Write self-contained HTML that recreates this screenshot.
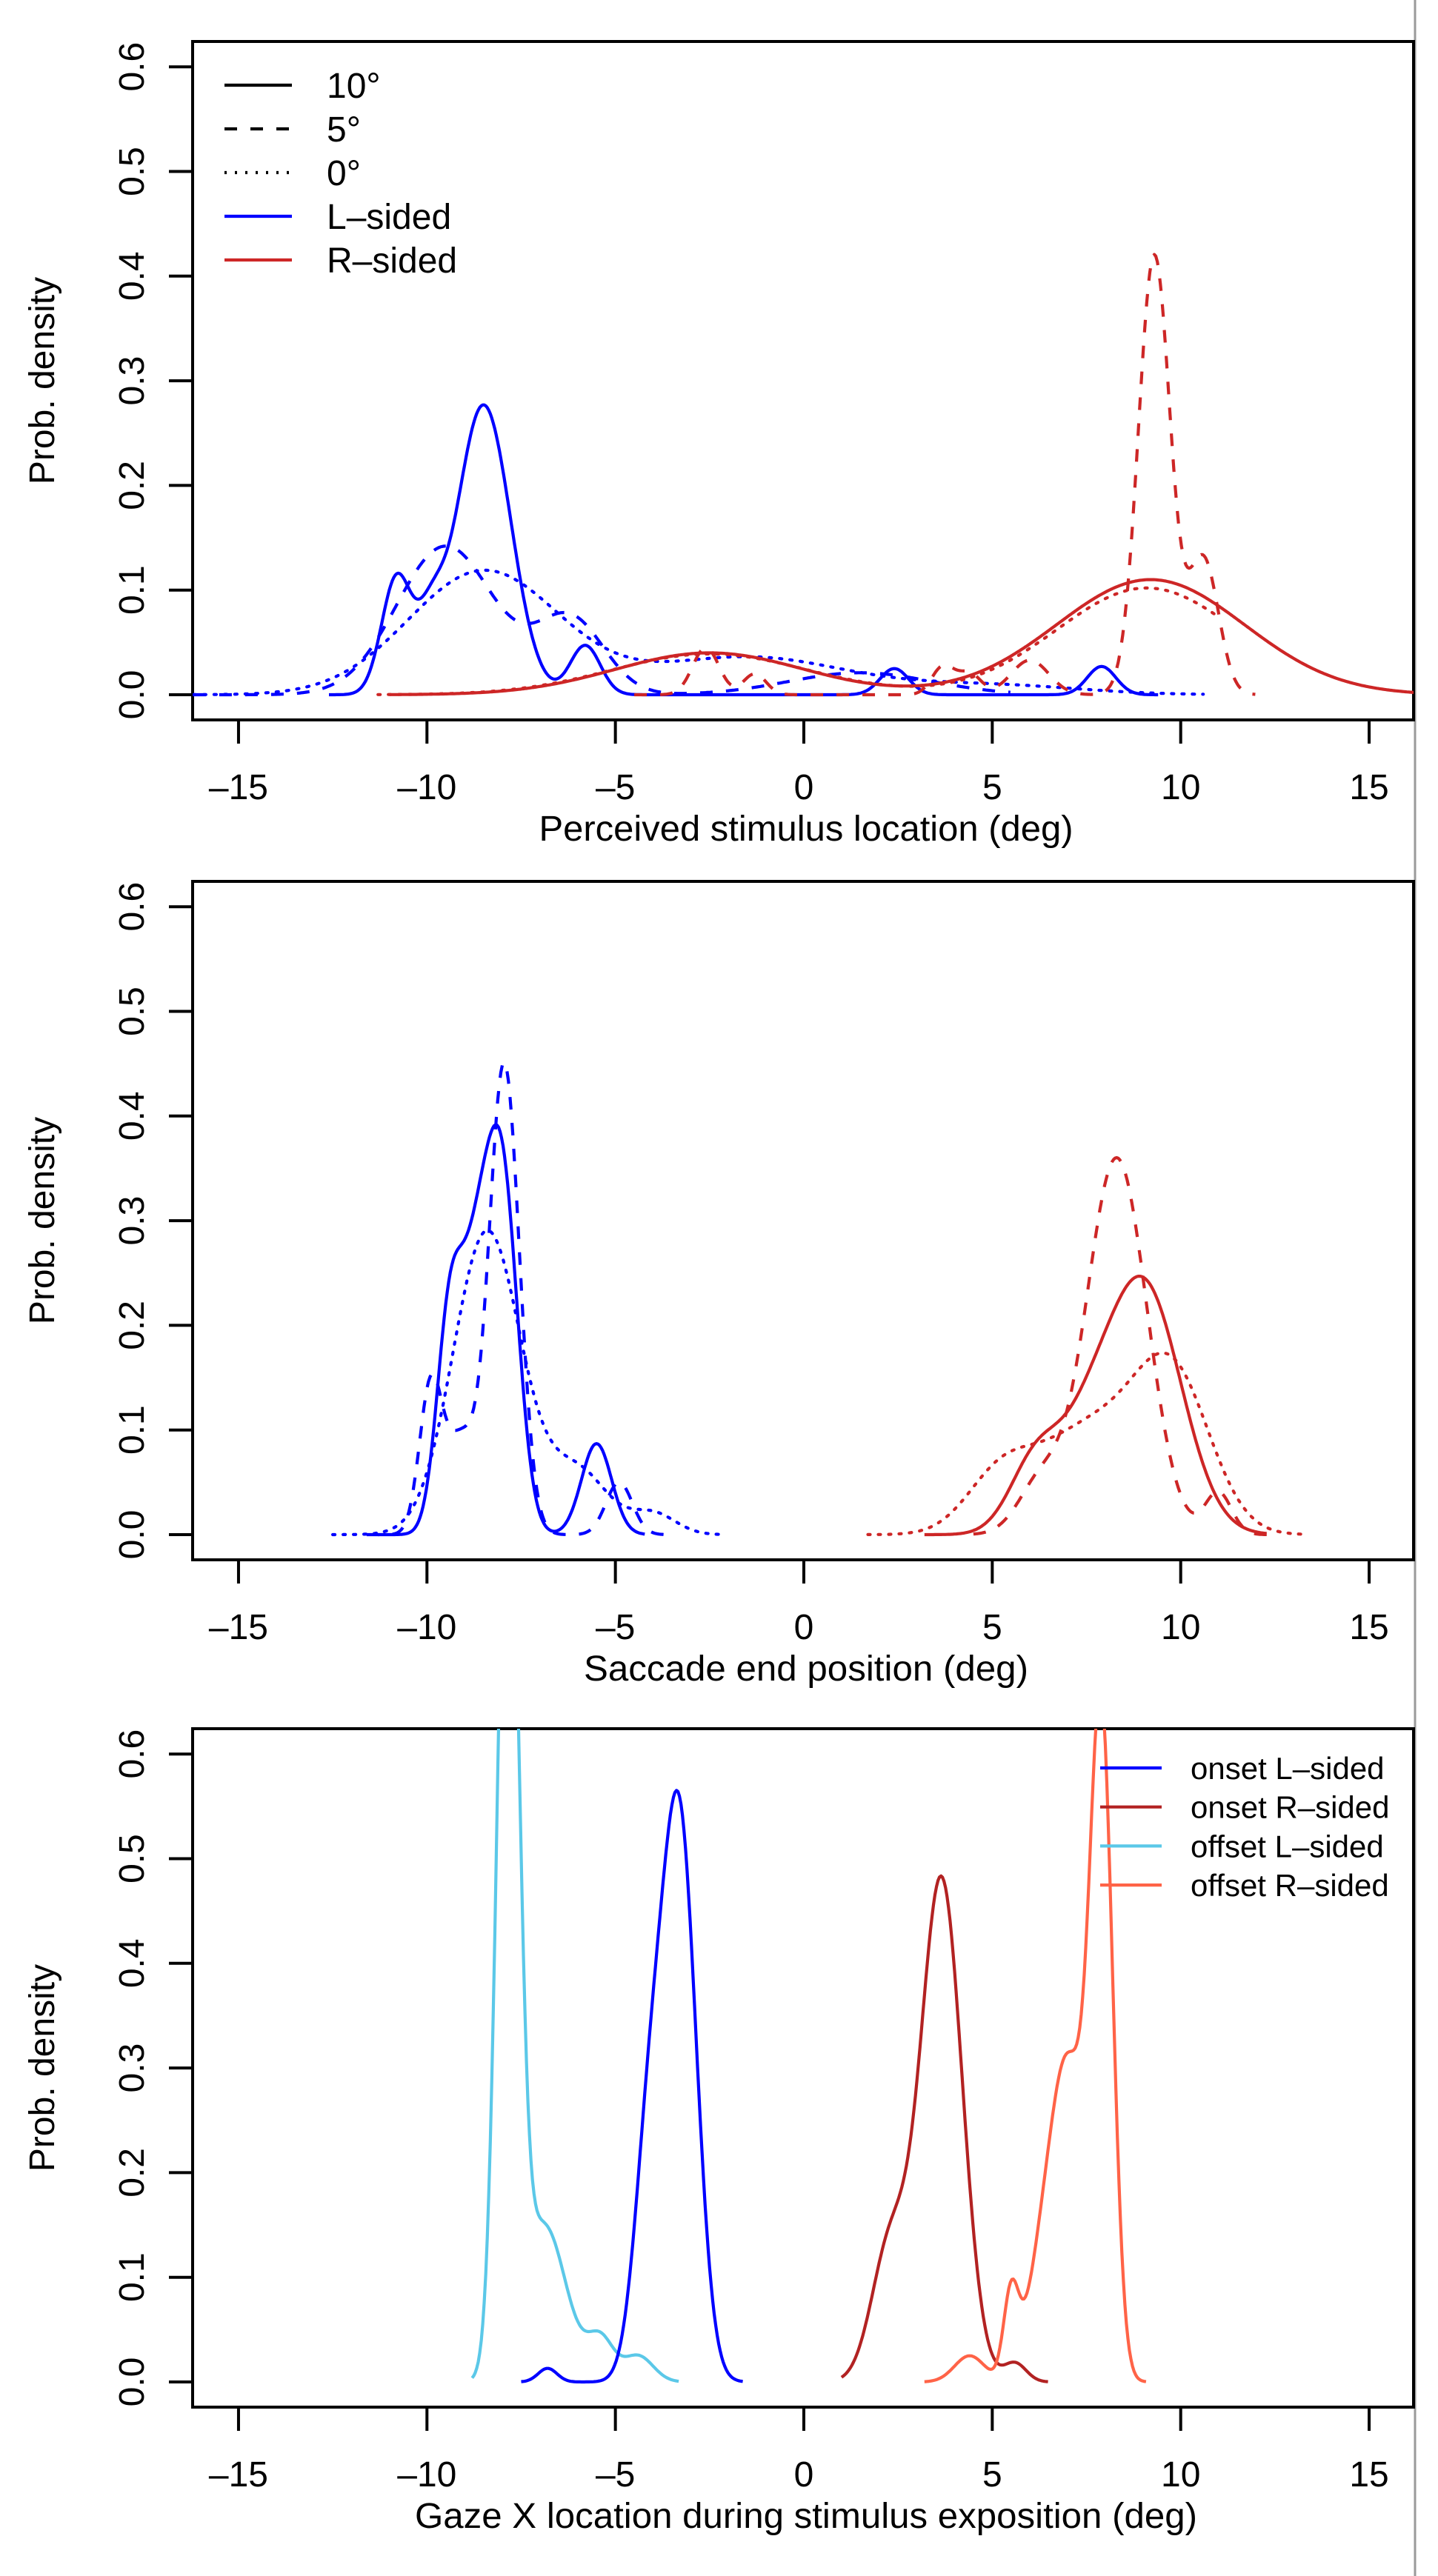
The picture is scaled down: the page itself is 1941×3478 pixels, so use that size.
<!DOCTYPE html>
<html><head><meta charset="utf-8"><style>
html,body{margin:0;padding:0;background:#fff;}
svg{display:block;}
text{font-family:"Liberation Sans",sans-serif;fill:#000;}
</style></head><body>
<svg id="s" width="1941" height="3478" viewBox="0 0 1941 3478" xmlns="http://www.w3.org/2000/svg">
<defs>
<clipPath id="c0"><rect x="260" y="56" width="1648" height="916"/></clipPath>
<clipPath id="c1"><rect x="260" y="1190" width="1648" height="916"/></clipPath>
<clipPath id="c2"><rect x="260" y="2334" width="1648" height="916"/></clipPath>
</defs>
<line x1="1910" y1="0" x2="1910" y2="3478" stroke="#9a9a9a" stroke-width="3"/>
<g id="g"></g>
</svg>
<script>
(function(){
var NS="http://www.w3.org/2000/svg";
var G=document.getElementById("g");
function el(t,a,txt){var e=document.createElementNS(NS,t);for(var k in a)e.setAttribute(k,a[k]);if(txt!=null)e.textContent=txt;G.appendChild(e);return e;}
var X0=1085,XU=50.87,YU=1413;
function X(v){return X0+v*XU;}
function gs(x,c){var s=0;for(var i=0;i<c.length;i++){var m=c[i];var d=(x-m[0])/m[1];s+=m[2]*Math.exp(-0.5*d*d);}return s;}
var BLUE="#0000FF",RED="#CD2626";
var DASH="17,18",DOT="3,11";
function curve(off,clip,a,b,comps,col,dash){
  var zero=938+off,p="";
  for(var x=a;x<=b+1e-9;x+=0.04){var y=zero-gs(x,comps)*YU;p+=(p?"L":"M")+X(x).toFixed(1)+","+y.toFixed(1);}
  var at={d:p,fill:"none",stroke:col,"stroke-width":"4.2","stroke-linejoin":"round","clip-path":"url(#"+clip+")"};
  if(dash)at["stroke-dasharray"]=dash;
  if(dash==DOT)at["stroke-linecap"]="round";
  el("path",at);
}
var titles=["Perceived stimulus location (deg)","Saccade end position (deg)","Gaze X location during stimulus exposition (deg)"];
var tlen=[721,600,1056];
var offs=[0,1134,2278];
for(var k=0;k<3;k++){
  var off=offs[k];
  var py=56+off,pb=972+off,zero=938+off;
  el("rect",{x:260,y:py,width:1648,height:916,fill:"none",stroke:"#000","stroke-width":"4"});
  for(var v=-15;v<=15;v+=5){
    el("line",{x1:X(v),y1:pb,x2:X(v),y2:pb+32,stroke:"#000","stroke-width":"4"});
    el("text",{x:X(v),y:1079+off,"font-size":"48","text-anchor":"middle"},(v<0?"–":"")+Math.abs(v));
  }
  el("line",{x1:X(-15),y1:pb,x2:X(15),y2:pb,stroke:"#000","stroke-width":"4"});
  for(var i=0;i<=6;i++){
    var yy=zero-i*141.3;
    el("line",{x1:228,y1:yy,x2:260,y2:yy,stroke:"#000","stroke-width":"4"});
    el("text",{x:0,y:0,"font-size":"48","text-anchor":"middle",transform:"translate(194,"+yy+") rotate(-90)"},(i/10).toFixed(1));
  }
  el("text",{x:0,y:0,"font-size":"48","text-anchor":"middle",transform:"translate(73,"+(py+458)+") rotate(-90)"},"Prob. density");
  el("text",{x:1088,y:1135+off,"font-size":"48","text-anchor":"middle",textLength:tlen[k],lengthAdjust:"spacingAndGlyphs"},titles[k]);
}
// Panel 1
var o=0,c="c0";
curve(o,c,-12.6,9.4,[[-10.8,0.4,0.112],[-9.9,0.35,0.055],[-8.5,0.72,0.277],[-5.8,0.4,0.047],[2.4,0.38,0.025],[7.9,0.38,0.027]],BLUE,null);
curve(o,c,-16.2,5.5,[[-9.5,1.3,0.142],[-6.2,0.9,0.072],[1.5,1.9,0.021]],BLUE,DASH);
curve(o,c,-16.2,10.6,[[-8.5,2.0,0.118],[-1.5,2.6,0.036],[5,2.3,0.009]],BLUE,DOT);
curve(o,c,-11,16.2,[[-2.5,2.5,0.04],[9.2,2.5,0.11]],RED,null);
curve(o,c,-4.5,12,[[9.3,0.42,0.42],[10.6,0.4,0.13],[6,0.5,0.033],[-2.6,0.35,0.045],[-1.3,0.3,0.02],[3.7,0.3,0.027],[4.4,0.3,0.02]],RED,DASH);
curve(o,c,-11.3,11,[[-2.5,2.6,0.039],[9.1,2.4,0.102]],RED,DOT);
var L=[["10°","#000",null],["5°","#000",DASH],["0°","#000",DOT],["L–sided",BLUE,null],["R–sided",RED,null]];
for(var i=0;i<5;i++){var yy=115+i*59;
  var a={x1:303,y1:yy,x2:394,y2:yy,stroke:L[i][1],"stroke-width":"4.2"};
  if(L[i][2])a["stroke-dasharray"]=L[i][2];
  el("line",a);
  el("text",{x:441,y:yy+17,"font-size":"48"},L[i][0]);}
// Panel 2
o=1134;c="c1";
curve(o,c,-11.3,-4.2,[[-9.4,0.35,0.2],[-8.7,0.4,0.21],[-8.0,0.42,0.33],[-5.5,0.4,0.087]],BLUE,null);
curve(o,c,-11.6,-3.4,[[-7.95,0.4,0.45],[-9.9,0.3,0.14],[-9.1,0.4,0.09],[-4.9,0.35,0.05]],BLUE,DASH);
curve(o,c,-12.5,-2.2,[[-8.4,0.9,0.29],[-6,0.8,0.06],[-4,0.6,0.02]],BLUE,DOT);
curve(o,c,3.2,12.3,[[9,1.0,0.24],[6.2,0.7,0.075],[7.5,0.7,0.06]],RED,null);
curve(o,c,4.5,12.3,[[8.3,0.8,0.36],[6.3,0.6,0.05],[11,0.35,0.04]],RED,DASH);
curve(o,c,1.7,13.3,[[9.8,1.0,0.14],[7.6,1.4,0.1],[5.2,0.9,0.05]],RED,DOT);
// Panel 3
o=2278;c="c2";
var CY="#5BC8E8",DR="#B22222",TO="#FF6347";
curve(o,c,-8.8,-3.3,[[-7.85,0.28,0.9],[-6.9,0.6,0.15],[-5.4,0.35,0.04],[-4.4,0.4,0.025]],CY,null);
curve(o,c,-7.5,-1.6,[[-3.3,0.45,0.53],[-4.1,0.4,0.22],[-6.8,0.25,0.013]],BLUE,null);
curve(o,c,1,6.5,[[3.65,0.55,0.48],[2.3,0.5,0.13],[5.6,0.3,0.018]],DR,null);
curve(o,c,3.2,9.1,[[7.9,0.3,0.6],[7.0,0.5,0.3],[6.2,0.4,0.06],[5.5,0.2,0.08],[4.4,0.4,0.025]],TO,null);
var L3=[["onset L–sided",BLUE],["onset R–sided",DR],["offset L–sided",CY],["offset R–sided",TO]];
for(var i=0;i<4;i++){var yy=2387+i*52.7;
  el("line",{x1:1485,y1:yy,x2:1568,y2:yy,stroke:L3[i][1],"stroke-width":"4.2"});
  el("text",{x:1607,y:yy+15,"font-size":"42"},L3[i][0]);}
})();
</script>
</body></html>
